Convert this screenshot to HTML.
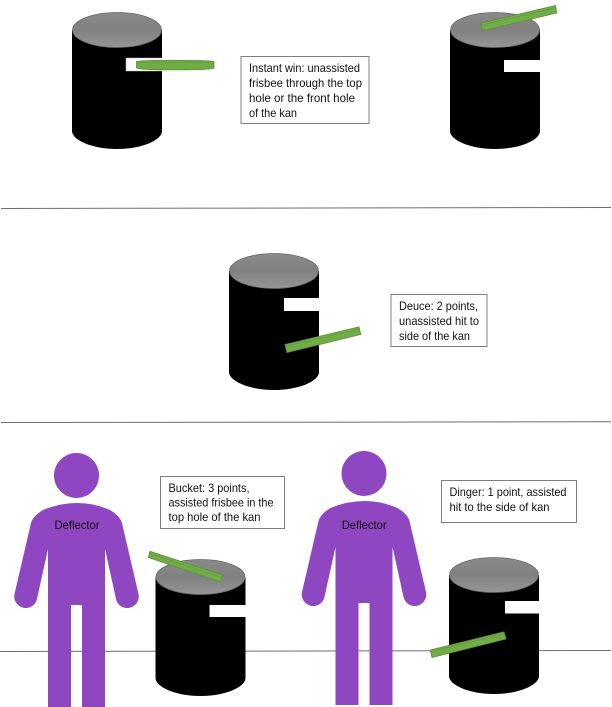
<!DOCTYPE html>
<html>
<head>
<meta charset="utf-8">
<style>
html,body{margin:0;padding:0;background:#fff;width:612px;height:707px;overflow:hidden}
svg{display:block}
text{font-family:"Liberation Sans",sans-serif;font-size:12px;fill:#111}
</style>
</head>
<body>
<svg width="612" height="707" viewBox="0 0 612 707" xmlns="http://www.w3.org/2000/svg">
<defs>
<linearGradient id="g" x1="0" y1="0" x2="0" y2="1">
<stop offset="0" stop-color="#8a8a8a"/><stop offset=".5" stop-color="#808080"/><stop offset="1" stop-color="#969696"/>
</linearGradient>
<g id="can">
<path d="M0 18V119C0 128 20 137 45 137S90 128 90 119V18Z" fill="#000"/>
<ellipse cx="45" cy="18" rx="44.500" ry="17.500" fill="url(#g)" stroke="#666" stroke-width=".7"/>
</g>
<g id="person" fill="#8e47c1">
<circle cx="76.500" cy="475.500" r="22.500"/>
<path d="M31 523Q33 516 43 510Q60 503 77 503Q94 503 110 510Q120 516 122 523L138.500 594A11.500 11.500 0 0 1 116 599L105 549V707H82V605H71V707H48V549L37 599A11.500 11.500 0 0 1 14.500 594Z"/>
</g>
</defs>
<rect width="612" height="707" fill="#fff"/>

<g stroke="#6e6e6e" stroke-width="1" fill="none">
<path d="M1 208.500L611 207.500"/>
<path d="M1 422.500L611 421.800"/>
<path d="M0 651.500L611 650.500"/>
</g>

<!-- Can 1 -->
<use href="#can" x="72" y="12"/>
<rect x="126" y="58" width="36" height="13" fill="#fff" stroke="#bbb" stroke-width=".5"/>
<rect x="162" y="50" width="10" height="28" fill="#fff"/>
<path d="M136.500 61.500C136.500 59.800 214 59.800 214 61.500V68C214 70.500 136.500 70.500 136.500 68Z" fill="#70ad47" stroke="#5f8f3c" stroke-width=".8"/>
<path d="M136.500 61.500C136.500 62.800 214 62.800 214 61.500" fill="none" stroke="#5f8f3c" stroke-width=".5"/>
<rect x="241" y="56.500" width="128" height="67" fill="#fff" stroke="#7f7f7f"/>
<text x="249" y="72" textLength="111" lengthAdjust="spacingAndGlyphs">Instant win: unassisted</text>
<text x="249" y="87" textLength="113" lengthAdjust="spacingAndGlyphs">frisbee through the top</text>
<text x="249" y="102" textLength="106" lengthAdjust="spacingAndGlyphs">hole or the front hole</text>
<text x="249" y="117" textLength="48" lengthAdjust="spacingAndGlyphs">of the kan</text>

<!-- Can 2 -->
<use href="#can" x="450" y="12"/>
<rect x="504" y="60" width="37" height="12" fill="#fff"/>
<path d="M481 23L555.500 5.500L556.800 13L482.800 30.800Z" fill="#70ad47" stroke="#5f8f3c" stroke-width=".8"/>
<path d="M481.500 25L556 7.500" fill="none" stroke="#5f8f3c" stroke-width=".5"/>

<!-- Can 3 -->
<use href="#can" x="229" y="253"/>
<rect x="284" y="298" width="36" height="13" fill="#fff"/>
<path d="M285 344.500L359 326.800L360.800 334.500L287 352.500Z" fill="#70ad47" stroke="#5f8f3c" stroke-width=".8"/>
<path d="M285.500 346.500L359.500 328.800" fill="none" stroke="#5f8f3c" stroke-width=".5"/>
<rect x="391" y="294.500" width="96" height="52" fill="#fff" stroke="#7f7f7f"/>
<text x="399" y="310" textLength="79" lengthAdjust="spacingAndGlyphs">Deuce: 2 points,</text>
<text x="399" y="325" textLength="80" lengthAdjust="spacingAndGlyphs">unassisted hit to</text>
<text x="399" y="340" textLength="71" lengthAdjust="spacingAndGlyphs">side of the kan</text>

<!-- Person 1 -->
<use href="#person"/>
<text x="54.500" y="529" textLength="45" lengthAdjust="spacingAndGlyphs">Deflector</text>

<!-- Can 4 -->
<use href="#can" x="155.500" y="559"/>
<rect x="209.500" y="605" width="37" height="12" fill="#fff"/>
<path d="M150 551.300L222.500 575L220.800 582L148.300 557.500Z" fill="#70ad47" stroke="#5f8f3c" stroke-width=".8"/>
<path d="M149.500 553.500L222 577.500" fill="none" stroke="#5f8f3c" stroke-width=".5"/>
<rect x="160.500" y="476.500" width="124" height="52" fill="#fff" stroke="#7f7f7f"/>
<text x="168.500" y="492" textLength="81" lengthAdjust="spacingAndGlyphs">Bucket: 3 points,</text>
<text x="168.500" y="506.500" textLength="105" lengthAdjust="spacingAndGlyphs">assisted frisbee in the</text>
<text x="168.500" y="521" textLength="92" lengthAdjust="spacingAndGlyphs">top hole of the kan</text>

<!-- Person 2 -->
<g transform="translate(287.500,-2)"><use href="#person"/></g>
<rect x="330" y="705" width="70" height="2" fill="#fff"/>
<text x="341.700" y="529" textLength="45" lengthAdjust="spacingAndGlyphs">Deflector</text>

<!-- Can 5 -->
<use href="#can" x="449" y="557"/>
<rect x="505" y="601" width="35" height="12.500" fill="#fff"/>
<path d="M430.300 650L504 631.800L506 639L432 657.500Z" fill="#70ad47" stroke="#5f8f3c" stroke-width=".8"/>
<path d="M431 651.500L504.500 634" fill="none" stroke="#5f8f3c" stroke-width=".5"/>
<rect x="441.500" y="480.500" width="135" height="42" fill="#fff" stroke="#7f7f7f"/>
<text x="449.500" y="496" textLength="117" lengthAdjust="spacingAndGlyphs">Dinger: 1 point, assisted</text>
<text x="449.500" y="511" textLength="100" lengthAdjust="spacingAndGlyphs">hit to the side of kan</text>
</svg>
</body>
</html>
